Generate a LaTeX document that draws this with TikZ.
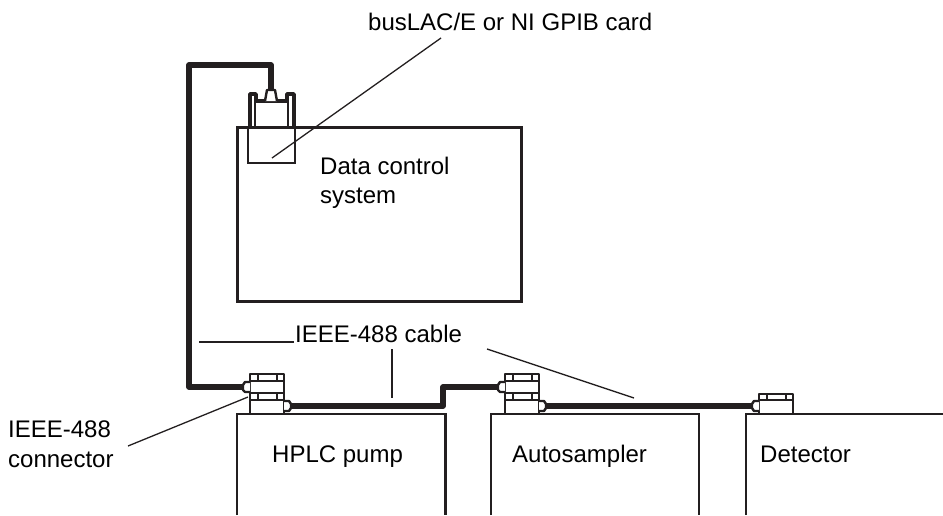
\documentclass[tikz,border=0pt]{standalone}
\usepackage{fontspec}
\setmainfont{Liberation Sans}
\definecolor{inkblack}{HTML}{231F20}
\tikzset{
    box/.style={draw=inkblack,line width=3.6pt},
    unitbox/.style={draw=inkblack,line width=2.8pt},
    cable/.style={draw=inkblack,line width=5.4pt,line join=round},
    body/.style={draw=inkblack,line width=2.8pt,fill=white,line join=round},
    thinline/.style={draw=inkblack,line width=1.3pt},
    label/.style={anchor=base west,inner sep=0pt,align=left,text=black,font=\fontsize{24}{29.5}\selectfont}
}
\begin{document}
\begin{tikzpicture}[x=1pt,y=-1pt]
        \useasboundingbox (0,0) rectangle (943,515);
        % declare points for cable and leader ends
        \coordinate (pc_plug) at (271,90);
        \coordinate (pc_corner) at (189,65);
        \coordinate (low_corner) at (189,387);
        \coordinate (pump_in) at (244,387);
        \coordinate (pump_out) at (291,406);
        \coordinate (step_low) at (443,406);
        \coordinate (step_high) at (443,387);
        \coordinate (auto_in) at (498,387);
        \coordinate (auto_out) at (545,406);
        \coordinate (det_in) at (753,406);
        \coordinate (card) at (272,158);
        \coordinate (card_top) at (441,38);
        \coordinate (cable_left) at (199,342);
        \coordinate (cable_end) at (294,342);
        \coordinate (stub_top) at (392,349);
        \coordinate (stub_low) at (392,398);
        \coordinate (cable_slant) at (487,349);
        \coordinate (cable_right) at (634,398);
        \coordinate (jack_end) at (128,446);
        \coordinate (pump_jack) at (248,397);
        % equipment boxes
        \node[box,anchor=north west,inner sep=0pt,outer sep=0pt,minimum width=284pt,minimum height=174pt] (pc) at (237.5,127.5) {};
        \draw[unitbox] (237,515) -- (237,414) -- (445.5,414) -- (445.5,515);
        \draw[unitbox] (491,515) -- (491,414) -- (699,414) -- (699,515);
        \draw[unitbox] (746,515) -- (746,414) -- (943,414);
        % cables
        \draw[cable] (pc_plug) -- (pc_plug |- pc_corner) -- (pc_corner) -- (low_corner) -- (pump_in);
        \draw[cable] (pump_out) -- (step_low) -- (step_high) -- (auto_in);
        \draw[cable] (auto_out) -- (det_in);
        % card connector
        \draw[thinline] (248,127) rectangle (295,163);
        \draw[thinline] (255,100) -- (255,127);
        \draw[thinline] (288,100) -- (288,127);
        \draw[body,fill=none,line width=3.4pt] (250,127) -- (250,94) -- (256,94) -- (256,101) -- (287,101) -- (287,94) -- (294,94) -- (294,127);
        \draw[body,line width=2.4pt] (265,101) -- (267,90) -- (275,90) -- (277,101);
        % stacked connectors
        \foreach \x in {250,505} {
            \draw[body] (\x,413) -- (\x,374) -- (\x+34,374) -- (\x+34,413);
            \draw[thinline] (\x,381) -- (\x+34,381);
            \draw[body,line width=2.4pt] (\x,393) -- (\x+34,393);
            \draw[thinline] (\x,400) -- (\x+34,400);
            \foreach \y in {374,393}
                \foreach \d in {8,27}
                    \draw[thinline] (\x+\d,\y) -- (\x+\d,\y+7);
            % plugs
            \draw[body,line width=2.4pt] (\x,382) -- (\x-5,382) -- (\x-7,385) -- (\x-7,390) -- (\x-5,392) -- (\x,392);
            \draw[body,line width=2.4pt] (\x+34,401) -- (\x+39,401) -- (\x+41,404) -- (\x+41,408) -- (\x+39,411) -- (\x+34,411);
        }
        % detector connector
        \draw[body] (759,413) -- (759,394) -- (793,394) -- (793,413);
        \draw[thinline] (759,400) -- (793,400);
        \foreach \d in {8,27}
            \draw[thinline] (759+\d,394) -- (759+\d,400);
        \draw[body,line width=2.4pt] (759,401) -- (754,401) -- (752,404) -- (752,408) -- (754,411) -- (759,411);
        % labels
        \node[label] (card_label) at (368,30) {busLAC/E or NI GPIB card};
        \node[label,anchor=west] (pc_label) at (320,183) {Data control\\system};
        \node[label] (cable_label) at (295,342) {IEEE-488 cable};
        \node[label,anchor=west] (jack_label) at (8,444) {IEEE-488\\connector};
        \node[label] (pump_label) at (272,462) {HPLC pump};
        \node[label] (auto_label) at (512,462) {Autosampler};
        \node[label] (det_label) at (760,462) {Detector};
        % leader lines
        \draw[thinline] (card) -- (card_top);
        \draw[thinline] (cable_left) -- (cable_end);
        \draw[thinline,line width=1.7pt] (stub_top) -- (stub_low);
        \draw[thinline] (cable_slant) -- (cable_right);
        \draw[thinline] (jack_end) -- (pump_jack);
    \end{tikzpicture}
\end{document}
